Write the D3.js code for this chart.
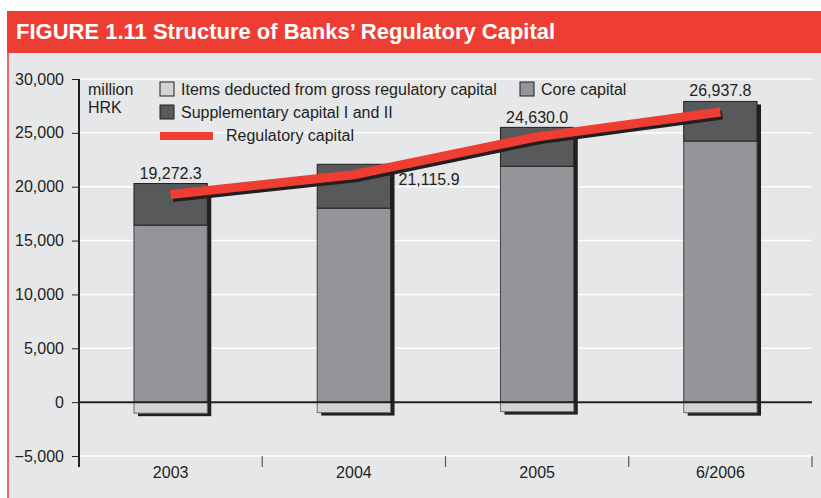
<!DOCTYPE html>
<html>
<head>
<meta charset="utf-8">
<script src="https://cdn.jsdelivr.net/npm/d3@7"></script>
<style>
  html, body { margin: 0; padding: 0; background: #ffffff; }
  svg { display: block; font-family: "Liberation Sans", Arial, Helvetica, sans-serif; }
</style>
</head>
<body>
<svg id="chart" width="821" height="498"></svg>
<script>
// Structure of banks' regulatory capital, million HRK
const categories = ["2003", "2004", "2005", "6/2006"];
const coreCapital = [16435, 18009, 21898, 24241];
const supplementaryCapital = [3861, 4074, 3611, 3676];
const itemsDeducted = [1024, 967, 879, 979];
const regulatoryCapital = [19272.3, 21115.9, 24630.0, 26937.8];
const regulatoryLabels = ["19,272.3", "21,115.9", "24,630.0", "26,937.8"];
const yTicks = [-5000, 0, 5000, 10000, 15000, 20000, 25000, 30000];

const svg = d3.select("#chart");
const W = 821, H = 498;
const FS = 16;

const C = {
  red: "#ee3e34",
  panel: "#e6e7e8",
  core: "#939598",
  supp: "#58595b",
  deducted: "#d1d3d4",
  shadow: "#231f20",
  text: "#231f20"
};

// header bar and panel
svg.append("rect").attr("x", 7).attr("y", 11).attr("width", W - 7).attr("height", 42).attr("fill", C.red);
svg.append("rect").attr("x", 7).attr("y", 53).attr("width", W - 7).attr("height", H - 53).attr("fill", C.panel);
svg.append("line").attr("x1", 8).attr("x2", 8).attr("y1", 53).attr("y2", H)
  .attr("stroke", C.red).attr("stroke-width", 1.5);
svg.append("text").attr("x", 16).attr("y", 39)
  .attr("fill", "#ffffff").attr("font-weight", "bold").attr("font-size", 22)
  .text("FIGURE 1.11 Structure of Banks’ Regulatory Capital");

const plot = { left: 79, right: 812, top: 79, bottom: 456 };

const y = d3.scaleLinear().domain([-5000, 30000]).range([plot.bottom, plot.top]);
const x = d3.scaleBand().domain(categories).range([plot.left, plot.right])
  .paddingInner(0.6).paddingOuter(0.3);

// gridlines
svg.append("g").selectAll("line").data(yTicks).join("line")
  .attr("x1", plot.left).attr("x2", plot.right)
  .attr("y1", d => y(d)).attr("y2", d => y(d))
  .attr("stroke", "#ffffff").attr("stroke-width", 1.5);

// y axis
const yAxis = svg.append("g").attr("transform", `translate(${plot.left},0)`)
  .call(d3.axisLeft(y).tickValues(yTicks).tickSize(7).tickPadding(8)
    .tickFormat(d => d < 0 ? "\u2212" + d3.format(",")(-d) : d3.format(",")(d)));
yAxis.select(".domain").remove();
yAxis.selectAll(".tick line").attr("stroke", C.text).attr("stroke-width", 1);
yAxis.selectAll(".tick text").attr("fill", C.text).attr("font-size", FS)
  .attr("font-family", "Liberation Sans, Arial, sans-serif");
svg.append("line").attr("x1", plot.left).attr("x2", plot.left)
  .attr("y1", plot.top).attr("y2", plot.bottom + 11)
  .attr("stroke", C.text).attr("stroke-width", 2);

// category separators and labels
const bounds = categories.map(c => x(c) - x.step() * x.paddingInner() / 2);
bounds[0] = plot.left;
bounds.push(plot.right);
svg.append("g").selectAll("line").data(bounds.slice(1)).join("line")
  .attr("x1", d => d).attr("x2", d => d)
  .attr("y1", plot.bottom).attr("y2", plot.bottom + 11)
  .attr("stroke", "#58595b").attr("stroke-width", 1.2);
svg.append("g").selectAll("text").data(categories).join("text")
  .attr("x", d => x(d) + x.bandwidth() / 2).attr("y", 478)
  .attr("text-anchor", "middle").attr("font-size", FS).attr("fill", C.text)
  .text(d => d);

// stacked bars
const rows = categories.map((c, i) => ({
  cat: c,
  core: coreCapital[i],
  supp: supplementaryCapital[i],
  ded: itemsDeducted[i]
}));
const bw = x.bandwidth();

const bars = svg.append("g").selectAll("g").data(rows).join("g");
// drop shadow
bars.append("rect")
  .attr("x", d => x(d.cat) + 4).attr("y", d => y(d.core + d.supp) + 3)
  .attr("width", bw).attr("height", d => y(-d.ded) - y(d.core + d.supp))
  .attr("fill", C.shadow);
// items deducted (below zero)
bars.append("rect")
  .attr("x", d => x(d.cat)).attr("y", y(0))
  .attr("width", bw).attr("height", d => y(-d.ded) - y(0))
  .attr("fill", C.deducted).attr("stroke", "#6d6e71").attr("stroke-width", 1);
// core capital
bars.append("rect")
  .attr("x", d => x(d.cat)).attr("y", d => y(d.core))
  .attr("width", bw).attr("height", d => y(0) - y(d.core))
  .attr("fill", C.core).attr("stroke", "#414042").attr("stroke-width", 1);
// supplementary capital
bars.append("rect")
  .attr("x", d => x(d.cat)).attr("y", d => y(d.core + d.supp))
  .attr("width", bw).attr("height", d => y(d.core) - y(d.core + d.supp))
  .attr("fill", C.supp).attr("stroke", "#231f20").attr("stroke-width", 1);

// zero line
svg.append("line").attr("x1", plot.left).attr("x2", plot.right)
  .attr("y1", y(0)).attr("y2", y(0))
  .attr("stroke", C.text).attr("stroke-width", 2);

// regulatory capital line with shadow
const line = d3.line()
  .x((d, i) => x(categories[i]) + bw / 2)
  .y(d => y(d));
svg.append("path").datum(regulatoryCapital)
  .attr("d", line).attr("transform", "translate(2,3)")
  .attr("fill", "none").attr("stroke", C.shadow).attr("stroke-width", 9);
svg.append("path").datum(regulatoryCapital)
  .attr("d", line)
  .attr("fill", "none").attr("stroke", C.red).attr("stroke-width", 9);

// value labels
const labelPos = [
  { dx: 0, dy: -5, anchor: "middle", above: true },
  { dx: bw / 2 + 8, dy: 10, anchor: "start", above: false },
  { dx: 0, dy: -4, anchor: "middle", above: true },
  { dx: 0, dy: -5, anchor: "middle", above: true }
];
svg.append("g").selectAll("text").data(rows).join("text")
  .attr("x", (d, i) => x(d.cat) + bw / 2 + labelPos[i].dx)
  .attr("y", (d, i) => labelPos[i].above ? y(d.core + d.supp) + labelPos[i].dy : y(regulatoryCapital[i]) + labelPos[i].dy)
  .attr("text-anchor", (d, i) => labelPos[i].anchor)
  .attr("font-size", FS).attr("fill", C.text)
  .text((d, i) => regulatoryLabels[i]);

// unit label
svg.append("text").attr("x", 88).attr("y", 95).attr("font-size", FS).attr("fill", C.text).text("million");
svg.append("text").attr("x", 88).attr("y", 113).attr("font-size", FS).attr("fill", C.text).text("HRK");

// legend
const legendItems = [
  { label: "Items deducted from gross regulatory capital", color: C.deducted, x: 160, y: 82 },
  { label: "Supplementary capital I and II", color: C.supp, x: 160, y: 105 },
  { label: "Core capital", color: C.core, x: 520, y: 82 }
];
const lg = svg.append("g").selectAll("g").data(legendItems).join("g");
lg.append("rect").attr("x", d => d.x).attr("y", d => d.y).attr("width", 14).attr("height", 14)
  .attr("fill", d => d.color).attr("stroke", C.text).attr("stroke-width", 1);
lg.append("text").attr("x", d => d.x + 21).attr("y", d => d.y + 13)
  .attr("font-size", FS).attr("fill", C.text).text(d => d.label);
svg.append("line").attr("x1", 160).attr("x2", 213).attr("y1", 136).attr("y2", 136)
  .attr("stroke", C.red).attr("stroke-width", 8);
svg.append("text").attr("x", 226).attr("y", 141).attr("font-size", FS).attr("fill", C.text)
  .text("Regulatory capital");
</script>
</body>
</html>
